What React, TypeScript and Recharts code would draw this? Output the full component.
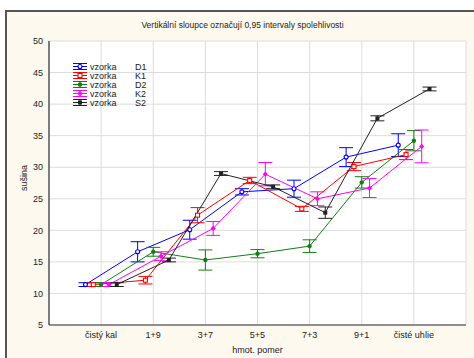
import React from 'react';
import { LineChart, Line, XAxis, YAxis, CartesianGrid, ErrorBar } from 'recharts';

const categories = ['čistý kal', '1+9', '3+7', '5+5', '7+3', '9+1', 'čisté uhlie'];
const catTicks = [1, 2, 3, 4, 5, 6, 7];
const frameTicks = [0, 1, 2, 3, 4, 5, 6, 7, 8];
const yTicks = [5, 10, 15, 20, 25, 30, 35, 40, 45, 50];

// means and 0.95 confidence half-widths per sample
const d1Mean = [11.4, 16.6, 20.1, 26.1, 26.6, 31.6, 33.5];
const d1Ci = [0.3, 1.6, 1.5, 0.5, 1.35, 1.5, 1.8];
const k1Mean = [11.4, 12.1, 22.4, 27.9, 23.4, 30.1, 32.0];
const k1Ci = [0.3, 0.6, 1.2, 0.5, 0.4, 0.65, 0.8];
const d2Mean = [11.4, 16.6, 15.3, 16.3, 17.5, 27.6, 34.2];
const d2Ci = [0.3, 0.7, 1.6, 0.65, 1.0, 0.9, 1.6];
const k2Mean = [11.4, 15.9, 20.3, 28.9, 25.0, 26.7, 33.3];
const k2Ci = [0.3, 0.7, 1.1, 1.85, 1.1, 1.5, 2.6];
const s2Mean = [11.4, 15.3, 29.0, 26.9, 22.8, 37.75, 42.4];
const s2Ci = [0.3, 0.3, 0.3, 0.3, 0.9, 0.4, 0.3];

type Marker = 'openCircle' | 'openSquare' | 'dot' | 'diamond' | 'square';

const series: { name: string; color: string; shift: number; mean: number[]; ci: number[]; marker: Marker }[] = [
  { name: 'D1', color: '#0000ff', shift: -0.3, mean: d1Mean, ci: d1Ci, marker: 'openCircle' },
  { name: 'K1', color: '#ff0000', shift: -0.15, mean: k1Mean, ci: k1Ci, marker: 'openSquare' },
  { name: 'D2', color: '#108010', shift: 0, mean: d2Mean, ci: d2Ci, marker: 'dot' },
  { name: 'K2', color: '#ff00ff', shift: 0.15, mean: k2Mean, ci: k2Ci, marker: 'diamond' },
  { name: 'S2', color: '#222222', shift: 0.3, mean: s2Mean, ci: s2Ci, marker: 'square' },
];

const FONT = '"Liberation Sans", Arial, sans-serif';
const AXIS = '#333';

function drawMarker(marker: Marker, color: string, cx: number, cy: number, key?: React.Key) {
  switch (marker) {
    case 'openCircle':
      return <circle key={key} cx={cx} cy={cy} r={2} fill="#fff" stroke={color} strokeWidth={1.1} />;
    case 'openSquare':
      return <rect key={key} x={cx - 2} y={cy - 2} width={4} height={4} fill="#fff" stroke={color} strokeWidth={1.1} />;
    case 'dot':
      return <circle key={key} cx={cx} cy={cy} r={2.2} fill={color} />;
    case 'diamond':
      return <path key={key} d={`M${cx},${cy - 2.6}L${cx + 2.6},${cy}L${cx},${cy + 2.6}L${cx - 2.6},${cy}Z`} fill={color} />;
    default:
      return <rect key={key} x={cx - 2} y={cy - 2} width={4} height={4} fill={color} />;
  }
}

function LegendBox() {
  return (
    <svg width={120} height={60} style={{ position: 'absolute', left: 66, top: 58, overflow: 'visible' }}>
      {series.map((s, i) => {
        const y = 8.5 + i * 9;
        return (
          <g key={s.name}>
            <line x1={7} x2={21} y1={y - 3} y2={y - 3} stroke={s.color} strokeWidth={1} />
            <line x1={7} x2={21} y1={y} y2={y} stroke={s.color} strokeWidth={1} />
            <line x1={7} x2={21} y1={y + 3} y2={y + 3} stroke={s.color} strokeWidth={1} />
            <line x1={14} x2={14} y1={y - 3} y2={y + 3} stroke={s.color} strokeWidth={1} />
            {drawMarker(s.marker, s.color, 14, y)}
            <text x={24} y={y + 3.2} fontSize={9} fill="#222" fontFamily={FONT}>vzorka</text>
            <text x={69} y={y + 3.2} fontSize={9} fill="#222" fontFamily={FONT}>{s.name}</text>
          </g>
        );
      })}
    </svg>
  );
}

export default function App() {
  return (
    <div style={{ position: 'absolute', left: 0, top: 0, width: 474, height: 358, background: '#fff', overflow: 'hidden', fontFamily: FONT }}>
      <div
        style={{
          position: 'absolute', left: 5, top: 10, right: 0, bottom: 0,
          background: '#fdf9ee', borderLeft: '2px solid #555', borderTop: '2px solid #555',
        }}
      />
      <div style={{ position: 'absolute', left: 242.5, top: 20, transform: 'translateX(-50%)', fontSize: 8.5, color: '#222', whiteSpace: 'nowrap' }}>
        Vertikální sloupce označují 0,95 intervaly spolehlivosti
      </div>
      <div style={{ position: 'absolute', left: 0, top: 0 }}>
        <LineChart width={474} height={358} margin={{ top: 41, right: 8, bottom: 0, left: 19 }}>
          <CartesianGrid stroke="#dcdcdc" fill="#fff" />
          <XAxis
            type="number"
            dataKey="x"
            domain={[0, 8]}
            ticks={catTicks}
            allowDataOverflow
            height={33}
            tickFormatter={(v: number) => categories[v - 1]}
            tick={{ fontSize: 9, fill: '#222', fontFamily: FONT }}
            tickLine={false}
            tickSize={0}
            tickMargin={7}
            axisLine={{ stroke: AXIS, strokeWidth: 1.2 }}
            label={{ value: 'hmot. pomer', position: 'insideBottom', offset: 5, fontSize: 9, fill: '#222', fontFamily: FONT }}
          />
          <XAxis
            xAxisId="top"
            orientation="top"
            type="number"
            domain={[0, 8]}
            ticks={frameTicks}
            height={0}
            mirror
            tickSize={4}
            tickFormatter={() => ''}
            axisLine={{ stroke: AXIS }}
            tickLine={{ stroke: AXIS }}
          />
          <YAxis
            type="number"
            domain={[5, 50]}
            ticks={yTicks}
            width={30}
            tick={{ fontSize: 9, fill: '#222', fontFamily: FONT }}
            tickLine={false}
            tickSize={0}
            tickMargin={6}
            axisLine={{ stroke: AXIS, strokeWidth: 1.2 }}
            label={{ value: 'sušina', angle: -90, position: 'insideLeft', offset: 5, dy: -5, fontSize: 9, fill: '#222', fontFamily: FONT, textAnchor: 'middle' }}
          />
          <YAxis
            yAxisId="right"
            orientation="right"
            type="number"
            domain={[5, 50]}
            ticks={yTicks}
            width={0}
            mirror
            tickSize={4}
            tickFormatter={() => ''}
            axisLine={{ stroke: AXIS }}
            tickLine={{ stroke: AXIS }}
          />
          {series.map((s) => (
            <Line
              key={s.name}
              name={s.name}
              data={s.mean.map((v, i) => ({ x: i + 1 + s.shift, y: v, err: s.ci[i] }))}
              dataKey="y"
              type="linear"
              stroke={s.color}
              strokeWidth={1}
              isAnimationActive={false}
              activeDot={false}
              dot={(p: any) => drawMarker(s.marker, s.color, p.cx, p.cy, `${s.name}-${p.index}`)}
            >
              <ErrorBar dataKey="err" direction="y" width={7} stroke={s.color} strokeWidth={1} isAnimationActive={false} />
            </Line>
          ))}
        </LineChart>
      </div>
      <LegendBox />
    </div>
  );
}
